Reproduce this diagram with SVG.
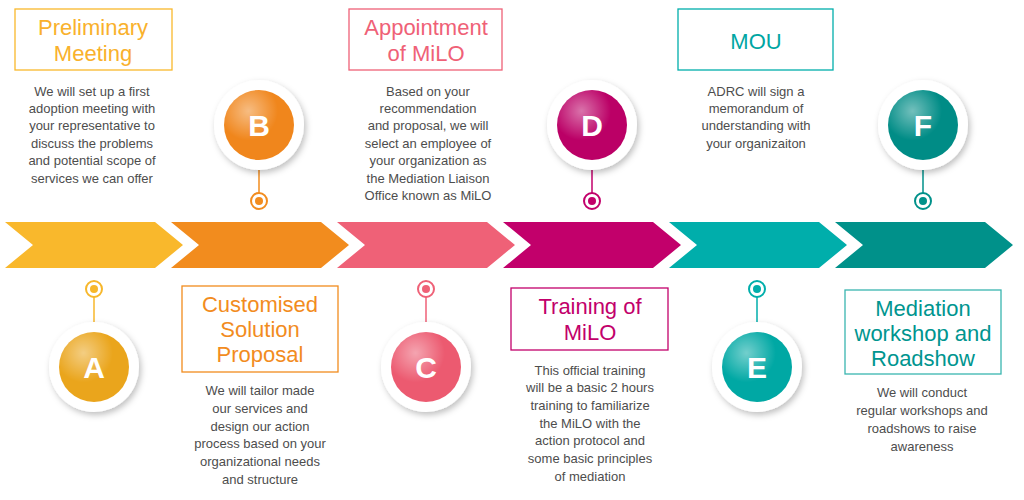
<svg xmlns="http://www.w3.org/2000/svg" width="1024" height="500" viewBox="0 0 1024 500">
<style>
.t{font-family:"Liberation Sans",Arial,sans-serif;font-size:22px;text-anchor:middle}
.b{font-family:"Liberation Sans",Arial,sans-serif;font-size:13px;fill:#4d4d4d;text-anchor:middle}
.L{font-family:"Liberation Sans",Arial,sans-serif;font-size:30px;font-weight:bold;fill:#fff;text-anchor:middle}
.box{fill:#fff;stroke-width:1.3}
.ring{fill:#fff;filter:url(#sh)}
.pin{fill:#fff;stroke-width:2}
</style>
<defs>
<filter id="sh" x="-30%" y="-30%" width="160%" height="160%"><feDropShadow dx="2" dy="3" stdDeviation="3" flood-opacity="0.25"/></filter>
<radialGradient id="hl" cx="0.35" cy="0.3" r="0.7"><stop offset="0" stop-color="#fff" stop-opacity="0.45"/><stop offset="0.6" stop-color="#fff" stop-opacity="0"/></radialGradient>
<path id="chev" d="M0,0 H150 L178,23 L150,46 H0 L28,23 Z"/>
</defs>
<g id="connectors">
<use href="#chev" x="5" y="222" fill="#f9b82c"/>
<use href="#chev" x="171" y="222" fill="#f28c1e"/>
<use href="#chev" x="337" y="222" fill="#ef6177"/>
<use href="#chev" x="503" y="222" fill="#c2006b"/>
<use href="#chev" x="669" y="222" fill="#00aeab"/>
<use href="#chev" x="835" y="222" fill="#00918a"/>
<line x1="94" y1="297" x2="94" y2="325" stroke="#f7b72b" stroke-width="1.5"/>
<line x1="259" y1="170" x2="259" y2="193" stroke="#f28c1e" stroke-width="1.5"/>
<line x1="426" y1="297" x2="426" y2="325" stroke="#ef6177" stroke-width="1.5"/>
<line x1="592" y1="170" x2="592" y2="193" stroke="#c2006b" stroke-width="1.5"/>
<line x1="757" y1="297" x2="757" y2="325" stroke="#00aeab" stroke-width="1.5"/>
<line x1="923" y1="170" x2="923" y2="193" stroke="#00918a" stroke-width="1.5"/>
</g>
<g id="A">
<circle class="pin" cx="94" cy="289" r="8" stroke="#f7b72b"/><circle cx="94" cy="289" r="4" fill="#f7b72b"/>
<circle class="ring" cx="94" cy="367" r="45"/><circle cx="94" cy="367" r="35" fill="#eaa51c"/><circle cx="94" cy="367" r="35" fill="url(#hl)"/>
<text class="L" x="94" y="378">A</text>
<rect class="box" x="15" y="9" width="157" height="61" stroke="#f9b82c"/>
<text class="t" fill="#f9b12c"><tspan x="93" y="35">Preliminary</tspan><tspan x="93" y="61">Meeting</tspan></text>
<text class="b"><tspan x="92" y="96">We will set up a first</tspan><tspan x="92" y="113">adoption meeting with</tspan><tspan x="92" y="130">your representative to</tspan><tspan x="92" y="148">discuss the problems</tspan><tspan x="92" y="165">and potential scope of</tspan><tspan x="92" y="183">services we can offer</tspan></text>
</g>
<g id="B">
<circle class="pin" cx="259" cy="201" r="8" stroke="#f28c1e"/><circle cx="259" cy="201" r="4" fill="#f28c1e"/>
<circle class="ring" cx="259" cy="125" r="45"/><circle cx="259" cy="125" r="35" fill="#f0861c"/><circle cx="259" cy="125" r="35" fill="url(#hl)"/>
<text class="L" x="259" y="136">B</text>
<rect class="box" x="182" y="286" width="156" height="86" stroke="#f28c1e"/>
<text class="t" fill="#f28c1e"><tspan x="260" y="312">Customised</tspan><tspan x="260" y="337">Solution</tspan><tspan x="260" y="362">Proposal</tspan></text>
<text class="b"><tspan x="260" y="395">We will tailor made</tspan><tspan x="260" y="413">our services and</tspan><tspan x="260" y="431">design our action</tspan><tspan x="260" y="448">process based on your</tspan><tspan x="260" y="466">organizational needs</tspan><tspan x="260" y="484">and structure</tspan></text>
</g>
<g id="C">
<circle class="pin" cx="426" cy="289" r="8" stroke="#ef6177"/><circle cx="426" cy="289" r="4" fill="#ef6177"/>
<circle class="ring" cx="426" cy="367" r="45"/><circle cx="426" cy="367" r="35" fill="#ec5a70"/><circle cx="426" cy="367" r="35" fill="url(#hl)"/>
<text class="L" x="426" y="378">C</text>
<rect class="box" x="349" y="9" width="153" height="61" stroke="#ef6177"/>
<text class="t" fill="#ef6177"><tspan x="426" y="35">Appointment</tspan><tspan x="426" y="61">of MiLO</tspan></text>
<text class="b"><tspan x="428" y="96">Based on your</tspan><tspan x="428" y="113">recommendation</tspan><tspan x="428" y="130">and proposal, we will</tspan><tspan x="428" y="148">select an employee of</tspan><tspan x="428" y="165">your organization as</tspan><tspan x="428" y="183">the Mediation Liaison</tspan><tspan x="428" y="200">Office known as MiLO</tspan></text>
</g>
<g id="D">
<circle class="pin" cx="592" cy="201" r="8" stroke="#c2006b"/><circle cx="592" cy="201" r="4" fill="#c2006b"/>
<circle class="ring" cx="592" cy="125" r="45"/><circle cx="592" cy="125" r="35" fill="#bb0066"/><circle cx="592" cy="125" r="35" fill="url(#hl)"/>
<text class="L" x="592" y="136">D</text>
<rect class="box" x="511" y="288" width="157" height="62" stroke="#c2006b"/>
<text class="t" fill="#c2006b"><tspan x="590" y="314">Training of</tspan><tspan x="590" y="340">MiLO</tspan></text>
<text class="b"><tspan x="590" y="375">This official training</tspan><tspan x="590" y="392">will be a basic 2 hours</tspan><tspan x="590" y="410">training to familiarize</tspan><tspan x="590" y="428">the MiLO with the</tspan><tspan x="590" y="445">action protocol and</tspan><tspan x="590" y="463">some basic principles</tspan><tspan x="590" y="481">of mediation</tspan></text>
</g>
<g id="E">
<circle class="pin" cx="757" cy="289" r="8" stroke="#00aeab"/><circle cx="757" cy="289" r="4" fill="#00aeab"/>
<circle class="ring" cx="757" cy="367" r="45"/><circle cx="757" cy="367" r="35" fill="#00a8a4"/><circle cx="757" cy="367" r="35" fill="url(#hl)"/>
<text class="L" x="757" y="378">E</text>
<rect class="box" x="678" y="9" width="155" height="61" stroke="#00aeab"/>
<text class="t" fill="#00a6a3"><tspan x="756" y="49">MOU</tspan></text>
<text class="b"><tspan x="756" y="96">ADRC will sign a</tspan><tspan x="756" y="113">memorandum of</tspan><tspan x="756" y="130">understanding with</tspan><tspan x="756" y="148">your organizaiton</tspan></text>
</g>
<g id="F">
<circle class="pin" cx="923" cy="201" r="8" stroke="#00918a"/><circle cx="923" cy="201" r="4" fill="#00918a"/>
<circle class="ring" cx="923" cy="125" r="45"/><circle cx="923" cy="125" r="35" fill="#008c86"/><circle cx="923" cy="125" r="35" fill="url(#hl)"/>
<text class="L" x="923" y="136">F</text>
<rect class="box" x="845" y="290" width="156" height="84" stroke="#3ab5b0"/>
<text class="t" fill="#00958f"><tspan x="923" y="316">Mediation</tspan><tspan x="923" y="341">workshop and</tspan><tspan x="923" y="366">Roadshow</tspan></text>
<text class="b"><tspan x="922" y="397">We will conduct</tspan><tspan x="922" y="415">regular workshops and</tspan><tspan x="922" y="433">roadshows to raise</tspan><tspan x="922" y="451">awareness</tspan></text>
</g>
</svg>
